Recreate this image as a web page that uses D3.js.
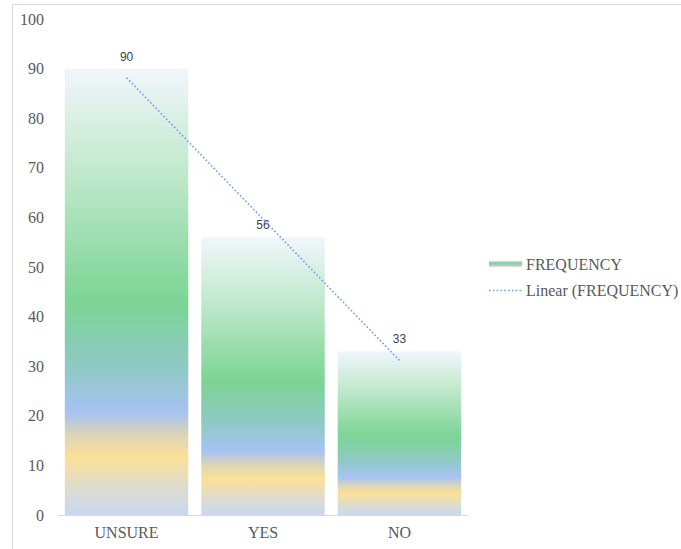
<!DOCTYPE html>
<html>
<head>
<meta charset="utf-8">
<script src="https://cdn.jsdelivr.net/npm/d3@7"></script>
<style>
  html, body { margin: 0; padding: 0; background: #fff; }
  svg { display: block; }
  .serif { font-family: "Liberation Serif", "Times New Roman", serif; }
  .sans { font-family: "Liberation Sans", Arial, sans-serif; }
</style>
</head>
<body>
<svg id="chart" width="681" height="549"></svg>
<script>
// Survey answers and their counts
const categories = ["UNSURE", "YES", "NO"];
const frequency = [90, 56, 33];
const yTicks = [0, 10, 20, 30, 40, 50, 60, 70, 80, 90, 100];
const seriesName = "FREQUENCY";
const trendName = "Linear (FREQUENCY)";

const svg = d3.select("#chart");
const W = 681, H = 549;
const plot = { left: 58, right: 468, top: 19, bottom: 515 };

// Outer frame (open to the right and bottom edges of the page)
svg.append("rect")
  .attr("x", 12.5).attr("y", 4.5)
  .attr("width", W).attr("height", H)
  .attr("fill", "none").attr("stroke", "#d9d9d9").attr("stroke-width", 1);

// Multi-colour vertical gradient, scaled to each bar's own height
const defs = svg.append("defs");
const grad = defs.append("linearGradient")
  .attr("id", "barFill")
  .attr("x1", 0).attr("y1", 1).attr("x2", 0).attr("y2", 0);
const stops = [
  [0.00, "#c9d8f0"],
  [0.05, "#d9dbd6"],
  [0.13, "#fbe097"],
  [0.18, "#dcd5b6"],
  [0.23, "#a6c3f2"],
  [0.33, "#8fc9c6"],
  [0.48, "#7cd494"],
  [0.75, "#bde7c9"],
  [1.00, "#f1f6fc"]
];
stops.forEach(([o, c]) => grad.append("stop").attr("offset", o).attr("stop-color", c));

const x = d3.scaleBand()
  .domain(categories)
  .range([plot.left, plot.right])
  .paddingInner(0.095)
  .paddingOuter(0.05);

const y = d3.scaleLinear()
  .domain([0, 100])
  .range([plot.bottom, plot.top]);

// Y axis labels (no axis line, no gridlines)
const yAxis = d3.axisLeft(y).tickValues(yTicks).tickSize(0).tickPadding(0);
const gy = svg.append("g")
  .attr("transform", `translate(${plot.left - 14},0)`)
  .call(yAxis)
  .attr("font-family", null).attr("font-size", null);
gy.select(".domain").remove();
gy.selectAll("text")
  .attr("class", "serif")
  .style("font-size", "16px")
  .attr("fill", "#595959");

// Bars
const data = categories.map((c, i) => ({ cat: c, val: frequency[i] }));
svg.append("g").selectAll("rect")
  .data(data)
  .join("rect")
  .attr("x", d => x(d.cat))
  .attr("y", d => y(d.val))
  .attr("width", x.bandwidth())
  .attr("height", d => y(0) - y(d.val))
  .attr("fill", "url(#barFill)");

// X axis baseline and category labels
const xAxis = d3.axisBottom(x).tickSize(0).tickPadding(12);
const gx = svg.append("g")
  .attr("transform", `translate(0,${plot.bottom})`)
  .call(xAxis)
  .attr("font-family", null).attr("font-size", null);
gx.select(".domain").attr("stroke", "#d9d9d9").attr("stroke-width", 1)
  .attr("d", `M${plot.left},0.5H${plot.right}`);
gx.selectAll("text")
  .attr("class", "serif")
  .style("font-size", "16px")
  .attr("fill", "#595959");

// Value labels above bars
svg.append("g").selectAll("text")
  .data(data)
  .join("text")
  .attr("class", "sans")
  .attr("x", d => x(d.cat) + x.bandwidth() / 2)
  .attr("y", d => y(d.val) - 8)
  .attr("text-anchor", "middle")
  .style("font-size", "12px")
  .attr("fill", "#404040")
  .text(d => d.val);

// Least-squares linear trend across the categories (x = 1..n)
const n = frequency.length;
const xs = d3.range(1, n + 1);
const mx = d3.mean(xs), my = d3.mean(frequency);
const slope = d3.sum(xs, (xi, i) => (xi - mx) * (frequency[i] - my)) /
              d3.sum(xs, xi => (xi - mx) * (xi - mx));
const intercept = my - slope * mx;
const trendPts = [1, n].map(xi => ({
  cat: categories[xi - 1],
  val: intercept + slope * xi
}));
svg.append("path")
  .datum(trendPts)
  .attr("fill", "none")
  .attr("stroke", "#6a9ff0")
  .attr("stroke-width", 1.6)
  .attr("stroke-dasharray", "1.6 2.2")
  .attr("d", d3.line()
    .x(d => x(d.cat) + x.bandwidth() / 2)
    .y(d => y(d.val)));

// Legend
const lg = svg.append("g").attr("transform", "translate(489,0)");
const lgGrad = defs.append("linearGradient")
  .attr("id", "legendFill")
  .attr("x1", 0).attr("y1", 1).attr("x2", 0).attr("y2", 0);
[[0, "#f4dfa5"], [0.35, "#a6c3f2"], [0.6, "#7cd494"], [1, "#bde7c9"]]
  .forEach(([o, c]) => lgGrad.append("stop").attr("offset", o).attr("stop-color", c));
lg.append("rect")
  .attr("x", 0).attr("y", 261).attr("width", 33).attr("height", 6)
  .attr("fill", "url(#legendFill)");
lg.append("line")
  .attr("x1", 0).attr("x2", 33).attr("y1", 290.5).attr("y2", 290.5)
  .attr("stroke", "#6a9ff0").attr("stroke-width", 1.4)
  .attr("stroke-dasharray", "1.6 2.2");
lg.selectAll("text")
  .data([seriesName, trendName])
  .join("text")
  .attr("class", "serif")
  .attr("x", 37)
  .attr("y", (d, i) => 270 + i * 26)
  .style("font-size", "16px")
  .attr("fill", "#595959")
  .text(d => d);
</script>
</body>
</html>
